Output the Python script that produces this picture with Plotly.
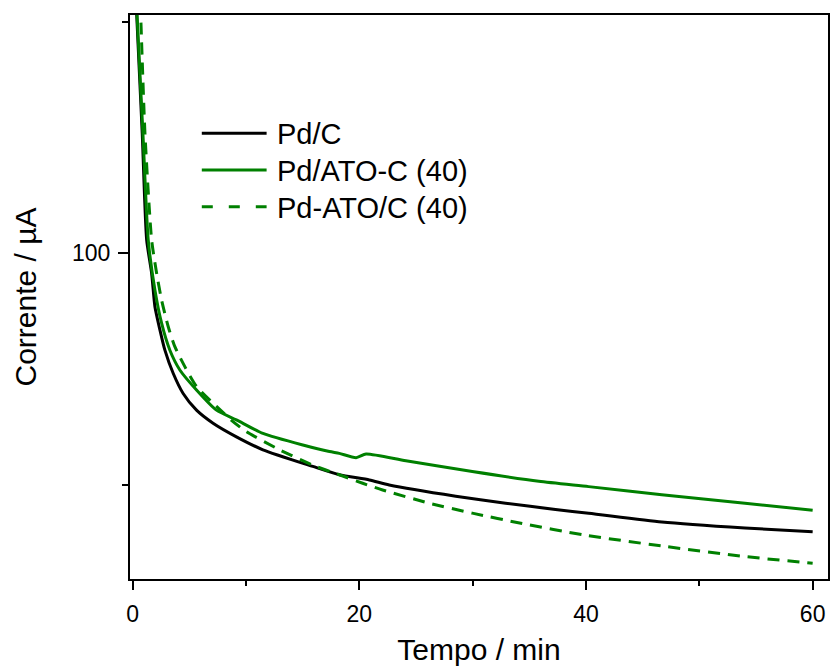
import plotly.graph_objects as go

# ---- data ----
t_pdc = [0.25, 0.36, 0.85, 1.24, 1.68, 1.97, 2.41, 2.85, 3.58, 4.46, 5.64, 7.10, 9.16, 11.5, 15.9, 18.24, 20.89, 22.64, 28.51, 32.91, 37.31, 40.24, 46.69, 54.03, 60.0]
i_pdc = [225, 204.8, 143.3, 104.1, 94.2, 85.2, 79.5, 74.8, 69.8, 65.7, 62.5, 60.1, 57.7, 55.5, 52.8, 51.5, 50.7, 49.95, 48.3, 47.3, 46.4, 45.9, 44.7, 43.9, 43.4]

t_ato_c = [0.28, 0.39, 0.91, 1.38, 1.97, 2.56, 3.29, 4.17, 5.64, 7.40, 9.16, 11.5, 15.02, 17.37, 18.24, 19.72, 20.6, 24.11, 29.97, 35.84, 40.24, 46.69, 54.03, 60.0]
i_ato_c = [225, 204.8, 143.3, 104.1, 89.6, 81.1, 74.8, 70.5, 66.4, 62.5, 60.7, 58.3, 56.3, 55.2, 54.9, 54.2, 54.8, 53.7, 52.0, 50.5, 49.7, 48.5, 47.3, 46.3]

t_pd_ato = [0.6, 0.71, 1.09, 1.68, 2.12, 2.56, 3.14, 3.73, 4.61, 5.64, 7.40, 8.86, 10.04, 12.97, 15.9, 18.24, 20.3, 22.06, 26.16, 29.97, 34.37, 39.8, 46.69, 54.03, 60.0]
i_pd_ato = [225, 204.8, 143.3, 104.1, 94.2, 86.9, 80.3, 75.6, 71.2, 67.1, 63.2, 60.4, 58.6, 55.5, 53.0, 51.5, 50.2, 49.2, 47.3, 45.9, 44.5, 43.0, 41.6, 40.3, 39.5]

series_names = ["Pd/C", "Pd/ATO-C (40)", "Pd-ATO/C (40)"]
x_ticks = [0, 20, 40, 60]
y_ticks = [100]
y_minor = [50, 200]

FONT = "Liberation Sans, Arial, sans-serif"
GREEN = "#008000"

fig = go.Figure()
styles = [("black", "solid"), (GREEN, "solid"), (GREEN, "12px,8px")]
for (t, i), name, (col, dash) in zip([(t_pdc, i_pdc), (t_ato_c, i_ato_c), (t_pd_ato, i_pd_ato)], series_names, styles):
    fig.add_trace(go.Scatter(x=t, y=i, mode="lines", name=name, showlegend=False,
                             line=dict(color=col, width=3, dash=dash, shape="spline", smoothing=0.6)))

# plot area in pixels
L, R, T, B = 130, 830, 15, 579
W, H = 830, 666
pw, ph = R - L, B - T

def px_x(p):
    return (p - L) / pw

def px_y(p):
    return (B - p) / ph

# manual legend
leg_rows = [133.3, 170.0, 206.7]
leg_dash = ["solid", "solid", "11px,16px"]
leg_col = ["black", GREEN, GREEN]
for name, yy, col, dash in zip(series_names, leg_rows, leg_col, leg_dash):
    fig.add_shape(type="line", xref="paper", yref="paper",
                  x0=px_x(202), x1=px_x(267), y0=px_y(yy), y1=px_y(yy),
                  line=dict(color=col, width=3, dash=dash))
    fig.add_annotation(xref="paper", yref="paper", x=px_x(275), y=px_y(yy + 1),
                       text=name, showarrow=False, xanchor="left", yanchor="middle",
                       font=dict(family=FONT, size=29, color="black"))

fig.update_layout(
    width=W, height=H,
    margin=dict(l=L, r=W - R, t=T, b=H - B),
    paper_bgcolor="white", plot_bgcolor="white",
    font=dict(family=FONT, color="black"),
    showlegend=False,
)
fig.update_xaxes(
    range=[(L - 132.6) / 11.367, (R - 132.6) / 11.367],
    tickvals=x_ticks, ticktext=[str(v) for v in x_ticks],
    ticks="outside", ticklen=9, tickwidth=2, tickcolor="black",
    ticklabelstandoff=4,
    minor=dict(dtick=10, tick0=0, ticks="outside", ticklen=5, tickwidth=2, tickcolor="black"),
    showline=True, linewidth=2, linecolor="black", mirror=True,
    showgrid=False, zeroline=False,
    tickfont=dict(family=FONT, size=23),
    title=dict(text="Tempo / min", font=dict(family=FONT, size=30), standoff=14),
)
fig.update_yaxes(
    type="log",
    range=[2 - (B - 253.3) / 768.4, 2 + (253.3 - T) / 768.4],
    tickvals=y_ticks, ticktext=[str(v) for v in y_ticks],
    ticks="outside", ticklen=10, tickwidth=2, tickcolor="black",
    ticklabelstandoff=3,
    minor=dict(tickvals=y_minor, ticks="outside", ticklen=6, tickwidth=2, tickcolor="black"),
    showline=True, linewidth=2, linecolor="black", mirror=True,
    showgrid=False, zeroline=False,
    tickfont=dict(family=FONT, size=23),
    title=dict(text="Corrente / µA", font=dict(family=FONT, size=30), standoff=27),
)

fig.write_html("out.html")
